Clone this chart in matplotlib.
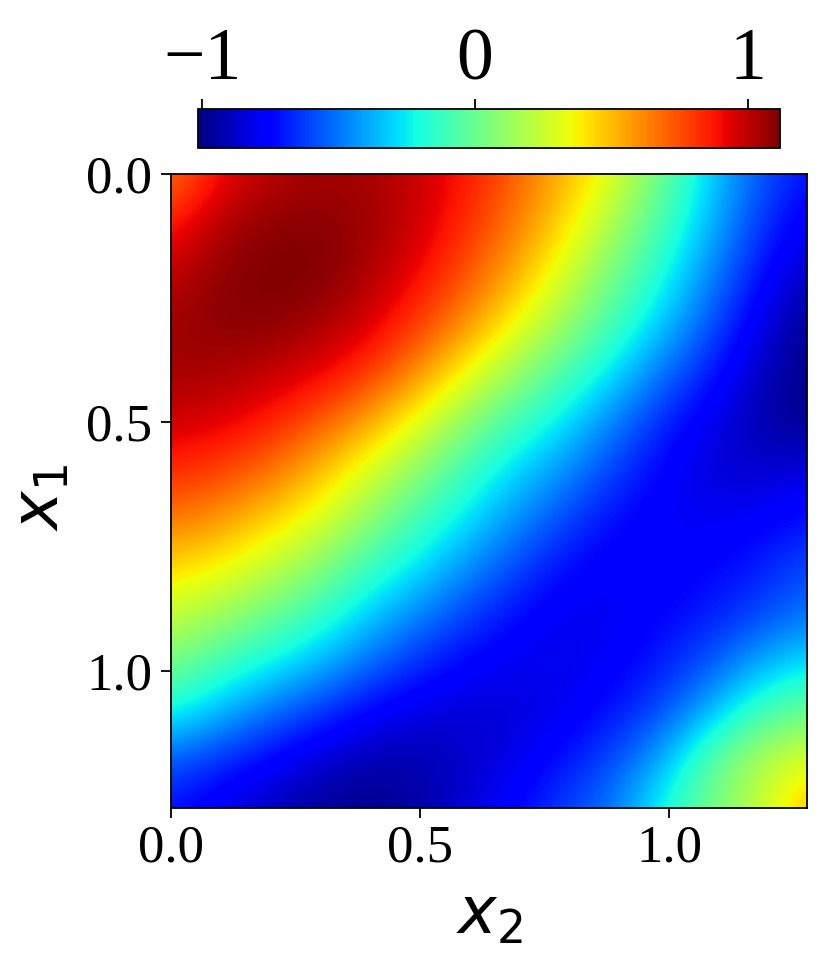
import numpy as np
import matplotlib
matplotlib.use("Agg")
import matplotlib.pyplot as plt

W, H = 829, 960
X_MAX = 1.277
Y_MAX = 1.276
VMIN, VMAX = -1.015, 1.117

row00 = [.65, .9, 1.0, 1.05, 1.04, .98, .88, .72, .52, .32, .02, -.3, -.55, -.72]
row01 = [.85, 1.03, 1.08, 1.1, 1.06, .98, .84, .66, .44, .18, -.08, -.35, -.62, -.8]
row02 = [.98, 1.08, 1.12, 1.12, 1.04, .92, .76, .55, .3, .05, -.18, -.45, -.7, -.9]
row03 = [1.05, 1.1, 1.1, 1.05, .97, .82, .62, .38, .15, -.08, -.3, -.55, -.8, -.98]
row04 = [1.05, 1.04, 1.0, .95, .83, .63, .38, .15, -.05, -.25, -.48, -.68, -.88, -1.0]
row05 = [.98, .95, .88, .75, .58, .35, .12, -.08, -.25, -.45, -.65, -.8, -.92, -1.0]
row06 = [.85, .8, .7, .52, .32, .12, -.1, -.28, -.42, -.6, -.75, -.85, -.88, -.85]
row07 = [.68, .6, .47, .33, .12, -.08, -.25, -.42, -.58, -.72, -.78, -.8, -.78, -.72]
row08 = [.45, .38, .25, .1, -.1, -.25, -.42, -.58, -.72, -.78, -.78, -.75, -.7, -.6]
row09 = [.25, .15, .02, -.12, -.3, -.45, -.6, -.72, -.8, -.8, -.75, -.7, -.62, -.5]
row10 = [.05, -.1, -.22, -.35, -.5, -.65, -.75, -.8, -.82, -.78, -.7, -.58, -.4, -.28]
row11 = [-.2, -.35, -.5, -.62, -.75, -.82, -.85, -.85, -.8, -.72, -.6, -.38, -.12, .0]
row12 = [-.55, -.65, -.75, -.85, -.92, -.93, -.88, -.82, -.72, -.6, -.4, -.05, .18, .3]
row13 = [-.72, -.82, -.9, -.97, -1.0, -.95, -.85, -.75, -.62, -.5, -.22, .02, .22, .52]
rows = [row00, row01, row02, row03, row04, row05, row06, row07, row08, row09, row10, row11, row12, row13]

heat_ticks = [0.0, 0.5, 1.0]
heat_labels = ["0.0", "0.5", "1.0"]
cbar_ticks = [-1, 0, 1]

plt.rcParams['font.family'] = ['Liberation Serif', 'DejaVu Serif']
plt.rcParams['mathtext.fontset'] = 'dejavusans'

fig = plt.figure(figsize=(W / 100, H / 100), dpi=100)
ax = fig.add_axes([171 / W, 1 - 808 / H, 636 / W, 634 / H])
grid = np.array(rows)
dx = X_MAX / (grid.shape[1] - 1)
dy = Y_MAX / (grid.shape[0] - 1)
img = ax.imshow(grid, cmap='jet', vmin=VMIN, vmax=VMAX, aspect='auto',
                interpolation='bicubic', interpolation_stage='data',
                extent=(-dx / 2, X_MAX + dx / 2, Y_MAX + dy / 2, -dy / 2))
ax.set_xlim(0, X_MAX)
ax.set_ylim(Y_MAX, 0)
ax.set_xticks(heat_ticks, heat_labels)
ax.set_yticks(heat_ticks, heat_labels)
ax.tick_params(axis='x', labelsize=38, length=7, width=1.3, pad=5)
ax.tick_params(axis='y', labelsize=38, length=7, width=1.3, pad=6.5)
ax.set_xlabel(r'$x_2$', fontsize=47, labelpad=11)
ax.set_ylabel(r'$x_1$', fontsize=47, labelpad=10, y=0.49)
for s in ax.spines.values():
    s.set_linewidth(1.3)

cax = fig.add_axes([198 / W, 1 - 148 / H, 582 / W, 39 / H])
cb = fig.colorbar(img, cax=cax, orientation='horizontal', ticks=cbar_ticks)
cb.ax.xaxis.set_ticks_position('top')
cb.ax.tick_params(labelsize=53, length=7, width=1.3, pad=3)
cb.outline.set_linewidth(1.3)

fig.savefig('out.png', dpi=100, facecolor='white')
